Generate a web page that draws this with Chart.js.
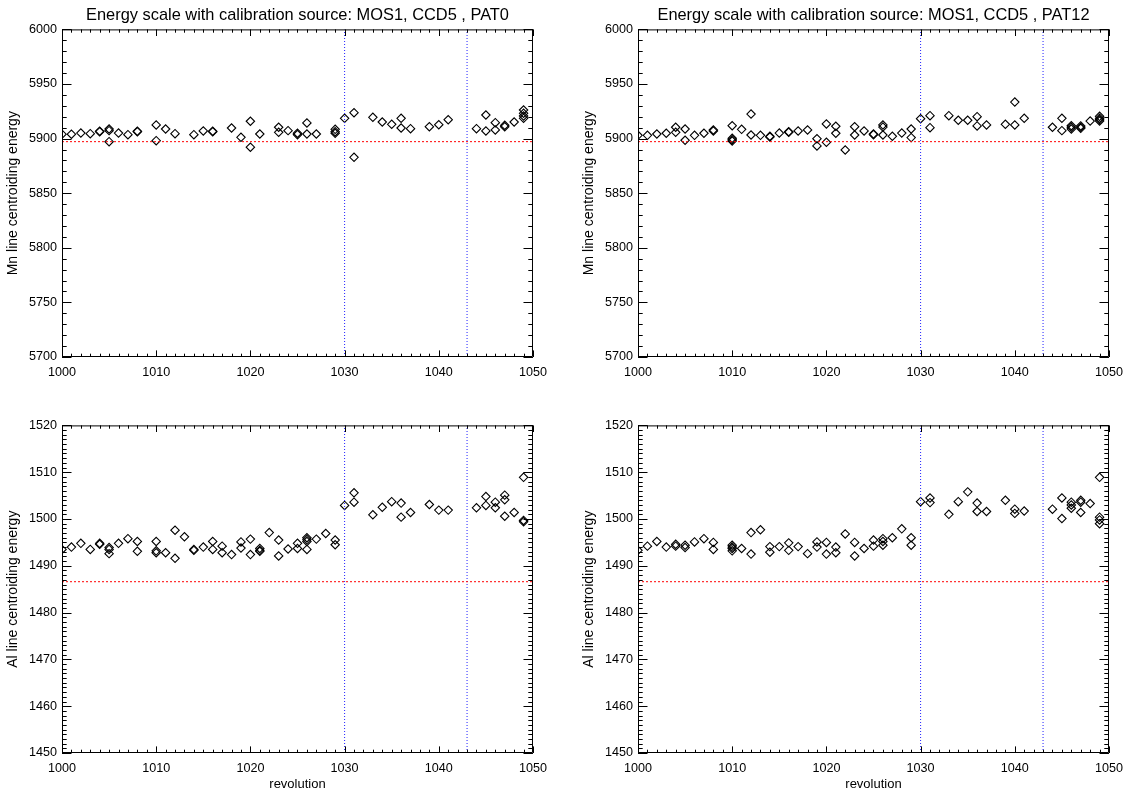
<!DOCTYPE html>
<html>
<head>
<meta charset="utf-8">
<script src="https://cdn.jsdelivr.net/npm/chart.js@4"></script>
<style>
    body { margin: 0; background: #fff; }
    .panel { position: absolute; }
</style>
</head>
<body>
<canvas id="mnPat0" class="panel" width="555" height="396" style="left:0;top:0"></canvas>
<canvas id="mnPat12" class="panel" width="555" height="396" style="left:576px;top:0"></canvas>
<canvas id="alPat0" class="panel" width="555" height="396" style="left:0;top:396px"></canvas>
<canvas id="alPat12" class="panel" width="555" height="396" style="left:576px;top:396px"></canvas>
<script>
// reference lines
const mnRef = 5897.2;
const alRef = 1486.6;
const revMarks = [1030, 1043];

// Mn line, PAT0
const revMnPat0 = [1000, 1001, 1002, 1003, 1004, 1004, 1005, 1005, 1005, 1006, 1007, 1008, 1008,
    1010, 1010, 1011, 1012, 1014, 1015, 1016, 1016, 1018, 1019, 1020, 1020, 1021, 1023, 1023, 1024,
    1025, 1025, 1026, 1026, 1027, 1029, 1029, 1029, 1030, 1031, 1031, 1033, 1034, 1035, 1036, 1036,
    1037, 1039, 1040, 1041, 1044, 1045, 1045, 1046, 1046, 1047, 1047, 1048, 1049, 1049, 1049, 1049];
const mnPat0 = [5904.0, 5904.0, 5905.1, 5904.5, 5906.3, 5906.8, 5908.8, 5907.3, 5897.2, 5905.1, 5903.6, 5906.3, 5906.8,
    5912.5, 5898.1, 5908.8, 5904.5, 5903.6, 5907.0, 5906.3, 5906.8, 5909.7, 5901.2, 5915.9, 5892.1, 5904.2, 5910.4, 5905.8, 5907.3,
    5904.9, 5903.6, 5914.3, 5904.2, 5904.2, 5908.5, 5906.3, 5904.9, 5918.6, 5923.7, 5882.9, 5919.5, 5915.2, 5913.1, 5918.6, 5909.7,
    5909.1, 5910.9, 5912.7, 5917.3, 5909.1, 5921.6, 5907.0, 5914.6, 5907.9, 5912.2, 5910.9, 5915.2, 5926.2, 5923.2, 5920.7, 5918.6];

// Mn line, PAT12
const revMnPat12 = [1000, 1001, 1002, 1003, 1004, 1004, 1005, 1005, 1006, 1007, 1008, 1008,
    1010, 1010, 1010, 1010, 1011, 1012, 1012, 1013, 1014, 1014, 1015, 1016, 1016, 1017, 1018,
    1019, 1019, 1020, 1020, 1021, 1021, 1022, 1023, 1023, 1024, 1025, 1025, 1026, 1026, 1026,
    1027, 1028, 1029, 1029, 1030, 1031, 1031, 1033, 1034, 1035, 1036, 1036, 1037, 1039, 1040, 1040,
    1041, 1044, 1045, 1045, 1046, 1046, 1046, 1047, 1047, 1047, 1048, 1049, 1049, 1049, 1049];
const mnPat12 = [5903.0, 5903.0, 5904.2, 5904.9, 5910.4, 5905.8, 5908.8, 5898.5, 5903.0, 5904.9, 5907.9, 5907.0,
    5911.8, 5900.3, 5899.0, 5897.8, 5908.5, 5922.5, 5903.3, 5903.0, 5902.1, 5901.5, 5905.1, 5906.3, 5905.8, 5907.0, 5907.9,
    5899.9, 5893.3, 5913.4, 5896.6, 5911.3, 5904.9, 5889.6, 5910.9, 5903.3, 5907.0, 5904.2, 5903.6, 5912.5, 5910.6, 5903.3,
    5902.1, 5905.1, 5908.8, 5900.9, 5918.2, 5921.0, 5910.0, 5921.0, 5916.8, 5916.8, 5920.1, 5911.6, 5912.5, 5913.1, 5933.5, 5912.5,
    5918.6, 5910.4, 5918.6, 5907.3, 5911.8, 5910.4, 5908.8, 5911.6, 5910.4, 5909.4, 5916.1, 5920.4, 5918.6, 5917.3, 5916.1];

// Al line, PAT0
const revAlPat0 = [1000, 1001, 1002, 1003, 1004, 1004, 1005, 1005, 1005, 1006, 1007, 1008, 1008,
    1010, 1010, 1010, 1011, 1012, 1012, 1013, 1014, 1014, 1015, 1016, 1016, 1017, 1017, 1018,
    1019, 1019, 1020, 1020, 1021, 1021, 1021, 1022, 1023, 1023, 1024, 1025, 1025,
    1026, 1026, 1026, 1026, 1027, 1028, 1029, 1029, 1030, 1031, 1031, 1033, 1034, 1035, 1036, 1036,
    1037, 1039, 1040, 1041, 1044, 1045, 1045, 1046, 1046, 1047, 1047, 1047, 1048, 1049, 1049, 1049];
const alPat0 = [1493.5, 1494.0, 1494.8, 1493.5, 1494.8, 1494.6, 1493.9, 1493.5, 1492.6, 1494.8, 1495.8, 1495.2, 1493.1,
    1495.2, 1493.2, 1492.8, 1492.8, 1497.6, 1491.6, 1496.2, 1493.5, 1493.3, 1494.0, 1495.2, 1493.5, 1494.2, 1492.8, 1492.4,
    1495.1, 1493.8, 1495.7, 1492.4, 1493.7, 1493.3, 1493.1, 1497.1, 1495.5, 1492.1, 1493.6, 1494.8, 1493.7,
    1496.0, 1495.6, 1495.2, 1493.5, 1495.7, 1496.9, 1495.5, 1494.5, 1502.9, 1505.6, 1503.6, 1500.9, 1502.5, 1503.7, 1503.4, 1500.4,
    1501.4, 1503.1, 1501.9, 1501.9, 1502.4, 1504.8, 1502.9, 1503.6, 1502.4, 1505.1, 1504.1, 1500.6, 1501.4, 1508.9, 1499.7, 1499.4];

// Al line, PAT12
const revAlPat12 = [1000, 1001, 1002, 1003, 1004, 1004, 1005, 1005, 1006, 1007, 1008, 1008,
    1010, 1010, 1010, 1010, 1011, 1012, 1012, 1013, 1014, 1014, 1015, 1016, 1016, 1017, 1018,
    1019, 1019, 1020, 1020, 1021, 1021, 1022, 1023, 1023, 1024, 1025, 1025, 1026, 1026, 1026,
    1027, 1028, 1029, 1029, 1030, 1031, 1031, 1033, 1034, 1035, 1036, 1036, 1037, 1039, 1040, 1040,
    1041, 1044, 1045, 1045, 1046, 1046, 1046, 1047, 1047, 1047, 1048, 1049, 1049, 1049, 1049];
const alPat12 = [1493.3, 1494.2, 1495.2, 1494.0, 1494.6, 1494.2, 1494.4, 1493.9, 1495.1, 1495.8, 1495.0, 1493.5,
    1494.4, 1494.0, 1493.7, 1493.2, 1493.7, 1497.1, 1492.5, 1497.7, 1494.1, 1492.9, 1494.1, 1494.9, 1493.3, 1494.1, 1492.6,
    1495.1, 1494.0, 1495.0, 1492.5, 1494.0, 1492.8, 1496.8, 1495.0, 1492.1, 1493.7, 1495.5, 1494.2, 1495.8, 1495.2, 1494.4,
    1496.0, 1497.9, 1496.0, 1494.4, 1503.7, 1504.5, 1503.5, 1501.0, 1503.7, 1505.8, 1503.4, 1501.6, 1501.6, 1504.0, 1502.1, 1501.2,
    1501.7, 1502.1, 1504.5, 1500.1, 1503.6, 1502.3, 1503.0, 1504.0, 1503.6, 1501.4, 1503.3, 1508.9, 1500.4, 1499.8, 1499.0];

const xMin = 1000, xMax = 1050;
const fontFamily = '"Liberation Sans", Arial, Helvetica, sans-serif';

// IDL style box: frame plus inward ticks on all four sides
const boxTicks = {
    id: 'boxTicks',
    afterDatasetsDraw(chart, args, o) {
        const { ctx, chartArea: a, scales: { x, y } } = chart;
        ctx.save();
        ctx.strokeStyle = '#000';
        ctx.lineWidth = 1;
        ctx.beginPath();
        ctx.rect(a.left + 0.5, a.top + 0.5, a.right - a.left - 1, a.bottom - a.top - 1);

        const nx = Math.round((x.max - x.min) / o.xMinor);
        for (let i = 0; i <= nx; i++) {
            const px = Math.round(x.getPixelForValue(x.min + i * o.xMinor)) + 0.5;
            const len = i % o.xEvery === 0 ? 6.6 : 3.3;
            ctx.moveTo(px, a.bottom); ctx.lineTo(px, a.bottom - len);
            ctx.moveTo(px, a.top); ctx.lineTo(px, a.top + len);
        }
        const ny = Math.round((y.max - y.min) / o.yMinor);
        for (let i = 0; i <= ny; i++) {
            const py = Math.round(y.getPixelForValue(y.min + i * o.yMinor)) + 0.5;
            const len = i % o.yEvery === 0 ? 9.5 : 4.7;
            ctx.moveTo(a.left, py); ctx.lineTo(a.left + len, py);
            ctx.moveTo(a.right, py); ctx.lineTo(a.right - len, py);
        }
        ctx.stroke();
        ctx.restore();
    }
};

function toPoints(revs, vals) {
    return revs.map((r, i) => ({ x: r, y: vals[i] }));
}

function makePanel(id, p) {
    const ctx = document.getElementById(id).getContext('2d');
    const dotted = { showLine: true, pointRadius: 0, borderWidth: 1, fill: false };
    const datasets = [
        { ...dotted, data: [{ x: xMin, y: p.ref }, { x: xMax, y: p.ref }], borderColor: '#ff0000', borderDash: [2, 2] },
        ...revMarks.map(r => ({ ...dotted, data: [{ x: r, y: p.yMin }, { x: r, y: p.yMax }], borderColor: '#2020ff', borderDash: [1, 2] })),
        {
            data: toPoints(p.revs, p.vals),
            pointStyle: 'rectRot',
            pointRadius: 4.2,
            pointBorderWidth: 1.1,
            pointBorderColor: '#000',
            pointBackgroundColor: 'rgba(0,0,0,0)',
            showLine: false,
            clip: 0,
        },
    ];

    return new Chart(ctx, {
        type: 'scatter',
        data: { datasets },
        plugins: [boxTicks],
        options: {
            responsive: false,
            animation: false,
            events: [],
            layout: { padding: { left: 0, right: 19, top: 0, bottom: 0 } },
            plugins: {
                legend: { display: false },
                tooltip: { enabled: false },
                // the title box is kept on every panel so all plot areas line up
                title: {
                    display: true,
                    text: p.title,
                    fullSize: false,
                    color: '#000',
                    font: { family: fontFamily, size: 16.4, weight: 'normal', lineHeight: 1 },
                    padding: { top: 7, bottom: 6 },
                },
                boxTicks: { xMinor: 1, xEvery: 10, yMinor: p.yMinor, yEvery: p.yEvery },
            },
            scales: {
                x: {
                    type: 'linear',
                    min: xMin,
                    max: xMax,
                    afterFit: (s) => { s.height = 39; },
                    grid: { display: false, drawTicks: false },
                    border: { display: false },
                    ticks: {
                        stepSize: 10,
                        autoSkip: false,
                        maxRotation: 0,
                        padding: 8,
                        color: '#000',
                        font: { family: fontFamily, size: 12.6 },
                        callback: (v) => String(v),
                    },
                    title: {
                        display: p.xTitle !== undefined,
                        text: p.xTitle,
                        color: '#000',
                        font: { family: fontFamily, size: 13 },
                        padding: { top: 0, bottom: 0 },
                    },
                },
                y: {
                    min: p.yMin,
                    max: p.yMax,
                    afterFit: (s) => { s.width = 62; },
                    grid: { display: false, drawTicks: false },
                    border: { display: false },
                    ticks: {
                        stepSize: p.yStep,
                        autoSkip: false,
                        padding: 5,
                        color: '#000',
                        font: { family: fontFamily, size: 12.6 },
                        callback: (v) => String(v),
                    },
                    title: {
                        display: true,
                        text: p.yTitle,
                        color: '#000',
                        font: { family: fontFamily, size: 14 },
                        padding: { top: 5, bottom: 0 },
                    },
                },
            },
        },
    });
}

makePanel('mnPat0', {
    title: 'Energy scale with calibration source: MOS1, CCD5 , PAT0',
    yTitle: 'Mn line centroiding energy',
    yMin: 5700, yMax: 6000, yStep: 50, yMinor: 10, yEvery: 5,
    ref: mnRef, revs: revMnPat0, vals: mnPat0,
});
makePanel('mnPat12', {
    title: 'Energy scale with calibration source: MOS1, CCD5 , PAT12',
    yTitle: 'Mn line centroiding energy',
    yMin: 5700, yMax: 6000, yStep: 50, yMinor: 10, yEvery: 5,
    ref: mnRef, revs: revMnPat12, vals: mnPat12,
});
makePanel('alPat0', {
    title: '',
    xTitle: 'revolution',
    yTitle: 'Al line centroiding energy',
    yMin: 1450, yMax: 1520, yStep: 10, yMinor: 1, yEvery: 10,
    ref: alRef, revs: revAlPat0, vals: alPat0,
});
makePanel('alPat12', {
    title: '',
    xTitle: 'revolution',
    yTitle: 'Al line centroiding energy',
    yMin: 1450, yMax: 1520, yStep: 10, yMinor: 1, yEvery: 10,
    ref: alRef, revs: revAlPat12, vals: alPat12,
});
</script>
</body>
</html>
